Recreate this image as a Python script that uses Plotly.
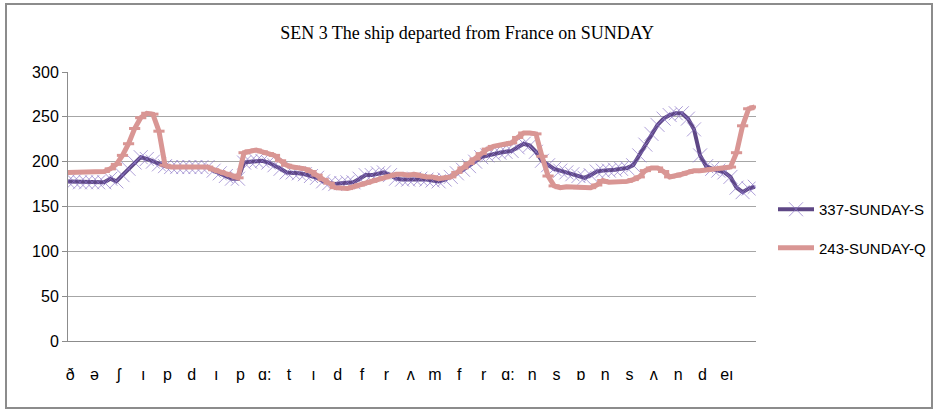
import plotly.graph_objects as go

# Category (phoneme) tick labels
labels = ["ð", "ə", "ʃ", "ı", "p", "d", "ı", "p", "ɑ:", "t", "ı", "d", "f", "r", "ʌ", "m",
          "f", "r", "ɑ:", "n", "s", "ɒ", "n", "s", "ʌ", "n", "d", "eı"]

# Series values (sampled every quarter of a label step, starting just left of the first label)
s337 = [178, 178, 177, 177, 177, 177, 177, 181, 178, 185, 192, 199, 205, 203, 200, 197,
        195, 194, 194, 194, 194, 194, 194, 194, 190, 187, 184, 181, 181, 199, 200, 201,
        201, 199, 196, 192, 188, 188, 187, 186, 184, 182, 178, 176, 175, 176, 177, 177,
        181, 185, 185, 187, 188, 185, 181, 180, 180, 181, 181, 180, 179, 178, 180, 183,
        187, 191, 195, 200, 205, 207, 209, 210, 211, 212, 216, 220, 218, 211, 201, 196,
        192, 190, 188, 186, 184, 182, 185, 189, 190, 190, 191, 192, 193, 196, 207, 219,
        231, 241, 248, 252, 254, 254, 248, 236, 207, 195, 192, 190, 188, 183, 171, 166,
        170, 172]
s243 = [188, 188, 188, 188, 188, 188, 189, 192, 197, 207, 220, 237, 249, 254, 253, 234,
        196, 194, 194, 194, 194, 194, 194, 194, 191, 189, 187, 185, 182, 210, 212, 213,
        211, 209, 207, 201, 196, 194, 193, 192, 189, 185, 180, 176, 171, 170, 170, 172,
        174, 176, 178, 180, 182, 184, 186, 186, 185, 186, 184, 183, 183, 181, 182, 183,
        188, 193, 198, 203, 209, 214, 217, 218, 219, 221, 227, 232, 232, 231, 206, 184,
        173, 171, 172, 172, 171, 171, 171, 174, 179, 177, 177, 177, 178, 180, 183, 190,
        193, 193, 189, 183, 184, 186, 188, 190, 190, 191, 192, 192, 193, 194, 210, 240,
        259, 261]

x_start, x_step = -0.1, 0.25
xs = [x_start + x_step * i for i in range(len(s337))]
ticks = list(range(len(labels)))

FONT = "Liberation Sans, sans-serif"

fig = go.Figure()
fig.add_trace(go.Scatter(
    x=xs, y=s337, name="337-SUNDAY-S", mode="lines+markers",
    line=dict(color="#5E4785", width=4),
    marker=dict(symbol="x-thin", size=14, color="rgba(140,118,200,0.7)",
                line=dict(color="rgba(140,118,200,0.7)", width=1)),
    legendgroup="a"))
fig.add_trace(go.Scatter(
    x=xs, y=s243, name="243-SUNDAY-Q", mode="lines+markers",
    line=dict(color="#D99694", width=5),
    marker=dict(symbol="line-ew", size=8, color="#D99694",
                line=dict(color="#D99694", width=3)),
    legendgroup="b"))

W, H = 938, 411
L, R, T, B = 68, 182, 72, 70
pw, ph = W - L - R, H - T - B

def px(x):
    return (x - L) / pw

def py(y):
    return (H - B - y) / ph

fig.update_layout(
    width=W, height=H,
    margin=dict(l=L, r=R, t=T, b=B, autoexpand=False),
    paper_bgcolor="white", plot_bgcolor="white",
    title=dict(text="SEN 3 The ship departed from France on SUNDAY",
               x=0.498, xanchor="center", y=1 - 33 / H, yanchor="middle",
               yref="container",
               font=dict(family="Liberation Serif", size=18, color="black")),
    font=dict(family=FONT, color="black"),
    xaxis=dict(range=[-0.09, 28.2], tickvals=ticks, ticktext=labels,
               showgrid=False, zeroline=False, showline=True,
               linecolor="#8C8C8C", linewidth=1, ticks="",
               ticklabelstandoff=19,
               tickfont=dict(family=FONT, size=16, color="black")),
    yaxis=dict(range=[0, 300], tickvals=[0, 50, 100, 150, 200, 250, 300],
               showgrid=True, gridcolor="#A6A6A6", gridwidth=1,
               zeroline=False, showline=True, linecolor="#8C8C8C", linewidth=1,
               ticks="outside", ticklen=5, tickcolor="#8C8C8C",
               tickfont=dict(family=FONT, size=16, color="black")),
    legend=dict(x=773 / W, xref="container", xanchor="left",
                y=1 - 193 / H, yref="container", yanchor="top",
                traceorder="grouped", tracegroupgap=16, itemwidth=36,
                font=dict(family=FONT, size=15, color="black"),
                bgcolor="rgba(0,0,0,0)"),
    shapes=[dict(type="rect", xref="paper", yref="paper",
                 x0=px(6), x1=px(932), y0=py(408), y1=py(4),
                 line=dict(color="#8C8C8C", width=2), fillcolor="rgba(0,0,0,0)",
                 layer="below")],
)

fig.write_html("out.html", config={"displayModeBar": False},
               post_script="document.body.style.margin='0';document.body.style.overflow='hidden';")
